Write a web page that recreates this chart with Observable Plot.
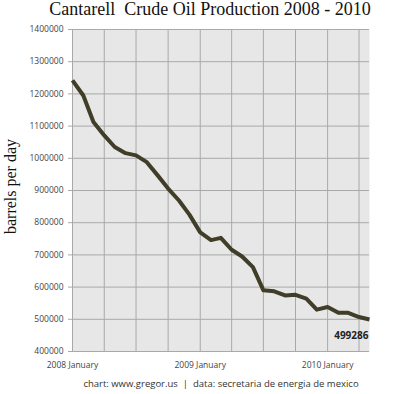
<!DOCTYPE html>
<html><head><meta charset="utf-8">
<script src="https://cdn.jsdelivr.net/npm/d3@7"></script>
<script src="https://cdn.jsdelivr.net/npm/@observablehq/plot@0.6"></script>
<style>
body{margin:0;background:#fff;}
#chart{width:400px;height:394px;}
</style></head><body>
<div id="chart"></div>
<script>
const months = [
  "2008-01","2008-02","2008-03","2008-04","2008-05","2008-06","2008-07","2008-08","2008-09","2008-10","2008-11","2008-12",
  "2009-01","2009-02","2009-03","2009-04","2009-05","2009-06","2009-07","2009-08","2009-09","2009-10","2009-11","2009-12",
  "2010-01","2010-02","2010-03","2010-04","2010-05"
];
const production = [
  1242000,1195000,1113000,1071000,1035000,1016000,1009000,988000,947000,906000,869000,825000,
  770000,746000,753000,716000,695000,662000,590000,587000,574000,576000,564000,530000,
  538000,520000,520000,507000,499286
];
const yTicks = [400000,500000,600000,700000,800000,900000,1000000,1100000,1200000,1300000,1400000];
const xLabelMonths = ["2008-01","2009-01","2010-01"];
const titleText = "Cantarell  Crude Oil Production 2008 - 2010";
const yLabel = "barrels per day";
const captionText = "chart: www.gregor.us  |  data: secretaria de energia de mexico";

const parse = d3.utcParse("%Y-%m");
const data = months.map((m, i) => ({date: parse(m), value: production[i]}));
const first = data[0].date, last = data[data.length - 1].date;
const quarterTicks = d3.utcMonth.every(3).range(first, d3.utcDay.offset(last, 1));
const janTicks = xLabelMonths.map(parse);
const grid = "#a9a9a9";

const chart = Plot.plot({
  width: 400, height: 394,
  marginTop: 29, marginBottom: 43, marginLeft: 72, marginRight: 31,
  style: {fontFamily: "'Open Sans', sans-serif", fontSize: "8.5px", color: "#444", background: "#fff"},
  x: {type: "utc", domain: [first, last], label: null},
  y: {domain: [400000, 1400000], label: null},
  marks: [
    Plot.frame({fill: "#e7e7e7", stroke: null}),
    Plot.gridX(quarterTicks, {stroke: grid, strokeOpacity: 1}),
    Plot.gridY(yTicks, {stroke: grid, strokeOpacity: 1}),
    Plot.axisY(yTicks, {tickSize: 4, tickPadding: 5, stroke: grid, fill: "#444", tickFormat: d3.format("d"), label: null}),
    Plot.axisX(janTicks, {tickSize: 0, tickPadding: 10, fill: "#444", tickFormat: d3.utcFormat("%Y %B"), label: null}),
    Plot.line(data, {x: "date", y: "value", stroke: "#403d29", strokeWidth: 4, strokeLinejoin: "round", strokeLinecap: "butt"}),
    Plot.text([data[data.length - 1]], {x: "date", y: "value", text: d => d3.format("d")(d.value), textAnchor: "end", dx: -1, dy: 16, fontWeight: "bold", fontSize: 10, fill: "#222"}),
    Plot.text([titleText], {frameAnchor: "top", text: d => d, dx: -11, dy: -27, fontFamily: "'Liberation Serif', serif", fontSize: 18, fill: "#111"}),
    Plot.text([yLabel], {frameAnchor: "left", text: d => d, dx: -62, dy: -4, rotate: -90, textAnchor: "middle", lineAnchor: "middle", fontFamily: "'Liberation Serif', serif", fontSize: 16, fill: "#111"}),
    Plot.text([captionText], {frameAnchor: "bottom", text: d => d, dy: 35, fontSize: 9.5, fill: "#333"})
  ]
});
document.getElementById("chart").append(chart);
</script>
</body></html>
